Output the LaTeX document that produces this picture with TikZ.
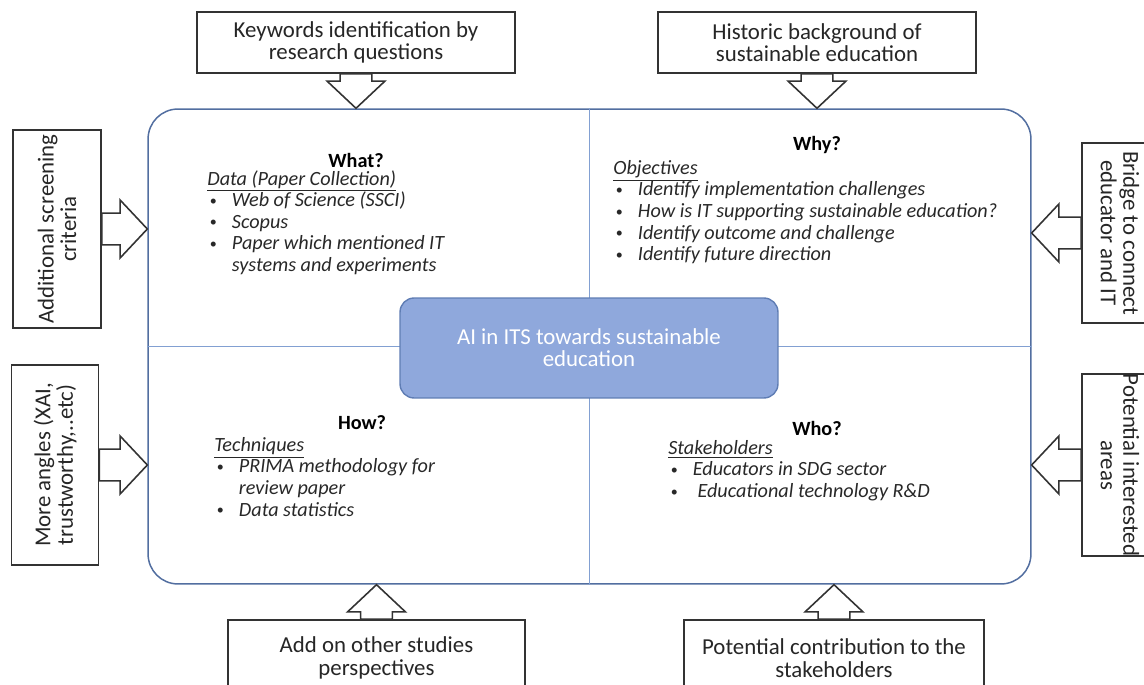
\documentclass[tikz,border=0pt]{standalone}
\usepackage{fontspec}
\setmainfont{Carlito}
\usetikzlibrary{calc}

\definecolor{framecol}{RGB}{82,110,160}
\definecolor{linecol}{RGB}{130,160,210}
\definecolor{corefill}{RGB}{143,168,220}
\definecolor{coreline}{RGB}{95,125,180}
\definecolor{inkcol}{RGB}{40,40,40}

\newcommand{\bul}{\hspace*{1.5pt}\makebox[12.5pt][l]{\raisebox{0.8pt}{\fontsize{8}{8}\selectfont\upshape\textbullet}}}
\newcommand{\cont}{\hspace*{14pt}}

% seta larga de (#1) ate (#2)
\newcommand{\fatarrow}[2]{%
  \draw[fatarrow] let \p1=(#1), \p2=(#2), \n1={atan2(\y2-\y1,\x2-\x1)}, \n2={veclen(\x2-\x1,\y2-\y1)} in
    [shift={(\p1)}, rotate=\n1]
    (0pt,-\shaftw) -- (\n2-\headl,-\shaftw) -- (\n2-\headl,-\headw) -- (\n2+0pt,0pt)
    -- (\n2-\headl,\headw) -- (\n2-\headl,\shaftw) -- (0pt,\shaftw) -- cycle;}

\begin{document}
\begin{tikzpicture}[x=0.02cm, y=-0.02cm,
  sidebox/.style={draw=black!80, line width=0.9pt, fill=white, align=center, inner sep=0pt, text=black!85, font=\fontsize{13}{12.8}\selectfont},
  fatarrow/.style={draw=black!80, line width=0.9pt, fill=white, line join=miter},
  head/.style={inner sep=0pt, text=black, font=\fontsize{11.5}{12}\selectfont\bfseries},
  listtext/.style={inner sep=0pt, anchor=north west, align=left, text=inkcol, font=\fontsize{11.5}{12.3}\selectfont\itshape}]

	\useasboundingbox (0,0) rectangle (1144,685);

	\def \shaftw{9pt};
	\def \headw{16.5pt};
	\def \headl{15.5pt};

	% QUADRO PRINCIPAL
	\node[draw=framecol, line width=0.85pt, rounded corners=17pt, minimum width=17.66cm, minimum height=9.5cm, inner sep=0pt] (frame) at (589.5,346.5) {};
	\draw[linecol, line width=0.8pt] (frame.north) -- (frame.south);
	\draw[linecol, line width=0.8pt] (frame.west) -- (frame.east);

	\node[fill=corefill, draw=coreline, line width=0.8pt, rounded corners=8pt, minimum width=7.56cm, minimum height=2cm, align=center, text=white, font=\fontsize{13}{12.5}\selectfont] (core) at (589,348) {AI in ITS towards sustainable\\education};

	% QUADRANTES
	\node[head] (whathead) at (356,160) {What?};
	\node[listtext] (whatlist) at (207,170) {\underline{Data (Paper Collection)}\\
		\bul Web of Science (SSCI)\\
		\bul Scopus\\
		\bul Paper which mentioned IT\\
		\cont systems and experiments};

	\node[head] (whyhead) at (817,145) {Why?};
	\node[listtext] (whylist) at (613,160) {\underline{Objectives}\\
		\bul Identify implementation challenges\\
		\bul How is IT supporting sustainable education?\\
		\bul Identify outcome and challenge\\
		\bul Identify future direction};

	\node[head] (howhead) at (362,423) {How?};
	\node[listtext] (howlist) at (214,437) {\underline{Techniques}\\
		\bul PRIMA methodology for\\
		\cont review paper\\
		\bul Data statistics};

	\node[head] (whohead) at (817,428) {Who?};
	\node[listtext] (wholist) at (668,440) {\underline{Stakeholders}\\
		\bul Educators in SDG sector\\
		\bul\ Educational technology R\&D};

	% CAIXAS EXTERNAS
	\node[sidebox, minimum width=6.36cm, minimum height=1.22cm] (kw) at (356,42.5) {Keywords identification by\\research questions};
	\node[sidebox, minimum width=6.36cm, minimum height=1.22cm] (hist) at (817,42.5) {Historic background of\\sustainable education};
	\node[sidebox, rotate=90, minimum width=3.96cm, minimum height=1.76cm] (addl) at (57,229) {Additional screening\\criteria};
	\node[sidebox, rotate=90, minimum width=4cm, minimum height=1.74cm] (angles) at (55,465) {More angles (XAI,\\trustworthy,..etc)};
	\node[sidebox, rotate=-90, minimum width=3.6cm, minimum height=1.52cm] (bridge) at (1120,233) {Bridge to connect\\educator and IT};
	\node[sidebox, rotate=-90, minimum width=3.6cm, minimum height=1.52cm] (areas) at (1120,465) {Potential interested\\areas};
	\node[sidebox, minimum width=5.94cm, minimum height=1.52cm] (addon) at (376.5,658) {Add on other studies\\perspectives};
	\node[sidebox, minimum width=6cm, minimum height=1.52cm] (contrib) at (834,658) {Potential contribution to the\\stakeholders};

	% SETAS
	\fatarrow{kw.south}{kw.south |- frame.north}
	\fatarrow{hist.south}{hist.south |- frame.north}
	\fatarrow{addl.south}{addl.south -| frame.west}
	\fatarrow{angles.south}{angles.south -| frame.west}
	\fatarrow{bridge.south}{bridge.south -| frame.east}
	\fatarrow{areas.south}{areas.south -| frame.east}
	\fatarrow{addon.north}{addon.north |- frame.south}
	\fatarrow{contrib.north}{contrib.north |- frame.south}

\end{tikzpicture}
\end{document}
